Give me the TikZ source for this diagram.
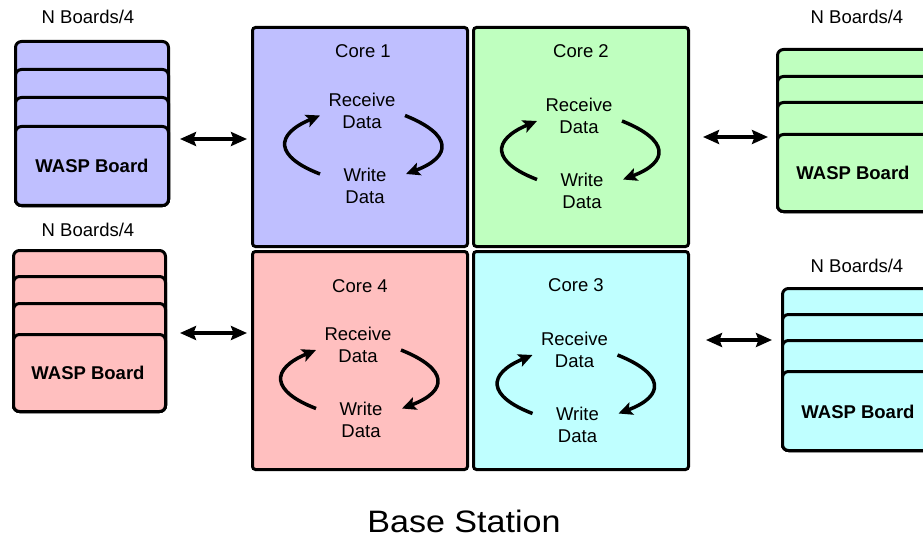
\documentclass[tikz,border=0pt]{standalone}
\usepackage{fontspec}
\setmainfont{Liberation Sans}
\usetikzlibrary{arrows.meta,fit}
\definecolor{cpurple}{RGB}{191,191,255}
\definecolor{cgreen}{RGB}{191,255,191}
\definecolor{cpink}{RGB}{255,191,191}
\definecolor{ccyan}{RGB}{191,255,255}
% a stack of four boards: name, colour, left, right, four tops, bottom
\newcommand\wstack[9]{%
  \draw[card, fill=#2] (#3,#5) rectangle (#4,#9);
  \draw[card, fill=#2] (#3,#6) rectangle (#4,#9);
  \draw[card, fill=#2] (#3,#7) rectangle (#4,#9);
  \node[card, fill=#2, inner sep=0pt, fit={(#3,#8) (#4,#9)}] (#1) {};
}
\begin{document}
\begin{tikzpicture}[x=1pt,y=-1pt,
  corebox/.style={draw=black, line width=3pt, rounded corners=3pt, inner sep=0pt, outer sep=0pt},
  card/.style={draw=black, line width=3pt, rounded corners=6pt},
  lbl/.style={font=\fontsize{18.5}{22}\selectfont, align=center, inner sep=0pt},
  boardlbl/.style={font=\fontsize{18.5}{22}\selectfont\bfseries, inner sep=0pt},
  titlelbl/.style={font=\fontsize{31}{36}\selectfont, inner sep=0pt},
  link/.style={line width=3.2pt, {Stealth[length=16pt,width=14pt,inset=2.5pt]}-{Stealth[length=16pt,width=14pt,inset=2.5pt]}},
  loop/.style={line width=3.5pt, -{Stealth[length=14pt,width=13pt,inset=3pt]}},
  pics/cycle/.style={code={
    \node[lbl] (-rd) at (-1.5,-35) {Receive\\Data};
    \node[lbl] (-wd) at (1.5,40) {Write\\Data};
    \draw[loop] (-43.5,28.5) .. controls (-89,11) and (-89,-11) .. (-43.5,-30);
    \draw[loop] (41.5,-30) .. controls (89,-11) and (89,11) .. (42.5,28.5);
  }}
]
\clip (0,0) rectangle (923,540);

% the four cores of the base station
\node[corebox, fill=cpurple, minimum width=215pt, minimum height=219pt] (core1) at (360,137) {};
\node[corebox, fill=cgreen,  minimum width=215pt, minimum height=219pt] (core2) at (581,137) {};
\node[corebox, fill=cpink,   minimum width=215pt, minimum height=218pt] (core4) at (360,360.5) {};
\node[corebox, fill=ccyan,   minimum width=215pt, minimum height=218pt] (core3) at (581,360.5) {};

\node[lbl] (t1) at (363,51) {Core 1};
\node[lbl] (t2) at (581,51) {Core 2};
\node[lbl] (t4) at (360,286) {Core 4};
\node[lbl] (t3) at (576,285) {Core 3};

\pic (k1) at (363.5,145.5) {cycle};
\pic (k2) at (580.5,151) {cycle};
\pic (k4) at (359.5,380) {cycle};
\pic (k3) at (576,385) {cycle};

% board stacks
\wstack{bA}{cpurple}{15.5}{168.5}{41.5}{69.5}{97.5}{126.5}{205.5}
\wstack{bB}{cgreen}{777.5}{945}{49.5}{76.5}{102.5}{134.5}{211.5}
\wstack{bD}{cpink}{13.5}{165.5}{250.5}{276.5}{303.5}{334.5}{411.5}
\wstack{bC}{ccyan}{782.5}{945}{288.5}{314.5}{340.5}{371.5}{450.5}

\node[boardlbl] (wA) at (92,166) {WASP Board};
\node[boardlbl] (wB) at (853,173) {WASP Board};
\node[boardlbl] (wD) at (88,373) {WASP Board};
\node[boardlbl] (wC) at (858,412) {WASP Board};

\node[lbl] (nA) at (88,17) {N Boards/4};
\node[lbl] (nB) at (857,17) {N Boards/4};
\node[lbl] (nD) at (88,230) {N Boards/4};
\node[lbl] (nC) at (857,266) {N Boards/4};

% links between stacks and cores
\coordinate (lA) at (180,139);
\coordinate (rA) at (247,139);
\coordinate (lB) at (703,137);
\coordinate (rB) at (768,137);
\coordinate (lD) at (180,333);
\coordinate (rD) at (247,333);
\coordinate (lC) at (706,340);
\coordinate (rC) at (772,340);
\draw[link] (lA) -- (rA);
\draw[link] (lB) -- (rB);
\draw[link] (lD) -- (rD);
\draw[link] (lC) -- (rC);

\node[titlelbl] (bs) at (464,521.5) {\scalebox{1.1}[1]{Base Station}};
\end{tikzpicture}
\end{document}
